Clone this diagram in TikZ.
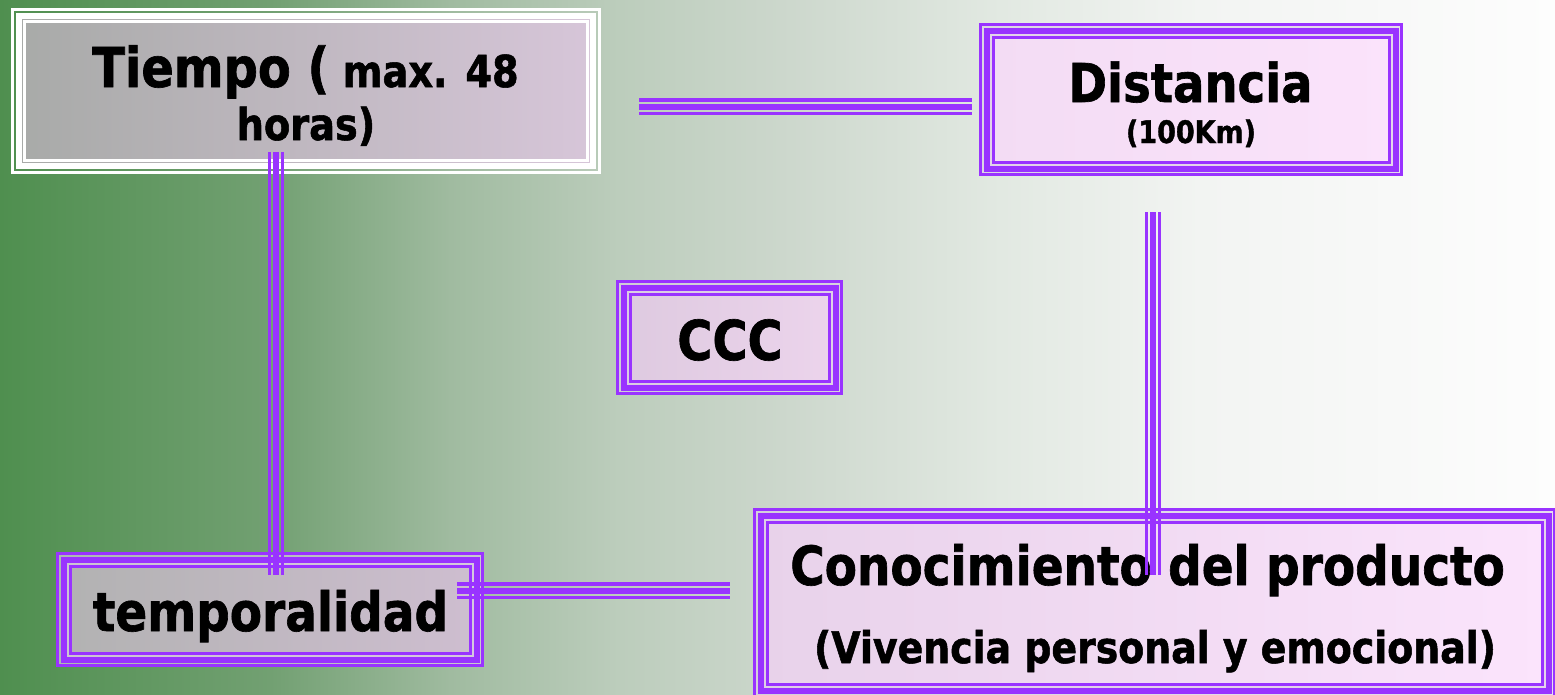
\documentclass[tikz,border=0pt]{standalone}
\usepackage{fontspec}
\newfontfamily\tah{DejaVu Sans Bold}[FakeStretch=0.87, FakeBold=1.2]
\usetikzlibrary{calc}
\definecolor{pur}{RGB}{153,51,255}
\definecolor{gapc}{RGB}{218,206,228}
\definecolor{bga}{RGB}{79,143,79}
\definecolor{bgb}{RGB}{114,160,114}
\definecolor{bgc}{RGB}{160,187,160}
\definecolor{bgd}{RGB}{188,205,188}
\definecolor{bge}{RGB}{204,215,204}
\definecolor{bgf}{RGB}{226,233,226}
\definecolor{bgg}{RGB}{242,244,242}
\definecolor{bgh}{RGB}{253,253,253}
\pgfdeclarehorizontalshading{bgsh}{100bp}{color(0bp)=(bga); color(25bp)=(bga); color(33.7bp)=(bgb); color(39.5bp)=(bgc); color(44.9bp)=(bgd); color(50.1bp)=(bge); color(57.2bp)=(bgf); color(63.6bp)=(bgg); color(75bp)=(bgh); color(100bp)=(bgh)}
\tikzset{
  boxn/.style={rectangle, inner sep=0pt, outer sep=0pt},
  pl/.style={draw=pur},
  wl/.style={draw=white},
  gapl/.style={draw=gapc, draw opacity=0.65, line width=11pt},
  txt/.style={inner sep=0pt, anchor=base, font=\tah, text=black}
}
\newcommand\pbox[1]{%
  \draw[gapl] (#1.north west) rectangle (#1.south east);
  \draw[pl, line width=6pt] (#1.north west) rectangle (#1.south east);
  \draw[pl, line width=2.8pt] ($(#1.north west)+(-6.3,-6.3)$) rectangle ($(#1.south east)+(6.3,6.3)$);
  \draw[pl, line width=3pt] ($(#1.north west)+(6.5,6.5)$) rectangle ($(#1.south east)+(-6.5,-6.5)$);}
\newcommand\connH[2]{%
  \draw[pl, line width=6pt] (#1) -- (#2);
  \draw[pl, line width=3.2pt, transform canvas={yshift=6.6pt}] (#1) -- (#2);
  \draw[pl, line width=3.2pt, transform canvas={yshift=-6.6pt}] (#1) -- (#2);}
\newcommand\connV[2]{%
  \draw[pl, line width=6pt] (#1) -- (#2);
  \draw[pl, line width=3.2pt, transform canvas={xshift=6.6pt}] (#1) -- (#2);
  \draw[pl, line width=3.2pt, transform canvas={xshift=-6.6pt}] (#1) -- (#2);}
\begin{document}
\begin{tikzpicture}[x=1pt,y=-1pt]
\useasboundingbox (0,0) rectangle (1555,694);
\shade[shading=bgsh] (0,0) rectangle (1555,694);

% Tiempo box (white frame)
\node[boxn, left color={rgb,255:red,168;green,170;blue,168}, right color={rgb,255:red,215;green,198;blue,217},
  minimum width=574.4pt, minimum height=150.4pt] (tiempo) at (306,91) {};
\draw[wl, line width=5.5pt] (tiempo.north west) rectangle (tiempo.south east);
\draw[wl, line width=3.4pt] ($(tiempo.north west)+(-6.2,-6.2)$) rectangle ($(tiempo.south east)+(6.2,6.2)$);
\draw[wl, line width=3pt] ($(tiempo.north west)+(6.1,6.1)$) rectangle ($(tiempo.south east)+(-6.1,-6.1)$);

% Distancia box
\node[boxn, left color={rgb,255:red,243;green,220;blue,244}, right color={rgb,255:red,251;green,227;blue,251},
  minimum width=409pt, minimum height=138pt] (dist) at (1191,99.5) {};
\pbox{dist}

% CCC box
\node[boxn, left color={rgb,255:red,222;green,202;blue,224}, right color={rgb,255:red,236;green,212;blue,236},
  minimum width=212pt, minimum height=100pt] (ccc) at (729.5,337.5) {};
\pbox{ccc}

% temporalidad box
\node[boxn, left color={rgb,255:red,178;green,178;blue,178}, right color={rgb,255:red,206;green,190;blue,208},
  minimum width=413pt, minimum height=100pt] (temp) at (270,609.5) {};
\pbox{temp}

% Conocimiento box
\node[boxn, left color={rgb,255:red,232;green,210;blue,234}, right color={rgb,255:red,251;green,228;blue,252},
  minimum width=788pt, minimum height=175.5pt] (cono) at (1154.5,603.25) {};
\pbox{cono}

% texts
\node[txt] (t1) at (305.5,87) {\fontsize{55}{60}\selectfont Tiempo (\fontsize{44}{50}\selectfont\ max. 48};
\node[txt] (t2) at (306,140) {\fontsize{44}{50}\selectfont horas)};
\node[txt] (t3) at (1190.5,102) {\fontsize{53.5}{60}\selectfont Distancia};
\node[txt] (t4) at (1191,143) {\fontsize{31}{36}\selectfont (100Km)};
\node[txt] (t5) at (730,360) {\fontsize{55}{60}\selectfont CCC};
\node[txt] (t6) at (270.5,631) {\fontsize{54}{60}\selectfont temporalidad};
\node[txt] (t7) at (1147.5,585) {\fontsize{54}{60}\selectfont Conocimiento del producto};
\node[txt] (t8) at (1155,663) {\fontsize{43.5}{50}\selectfont (Vivencia personal y emocional)};

% connectors
\coordinate (ha) at (639,106.5);
\coordinate (hb) at (971.5,106.5);
\coordinate (va) at (275.9,152);
\coordinate (vb) at (275.9,575);
\coordinate (wa) at (1153,212.3);
\coordinate (wb) at (1153,575);
\coordinate (ga) at (457.3,590.6);
\coordinate (gb) at (730,590.6);
\connH{ha}{hb}
\connV{va}{vb}
\connV{wa}{wb}
\connH{ga}{gb}
\end{tikzpicture}
\end{document}
